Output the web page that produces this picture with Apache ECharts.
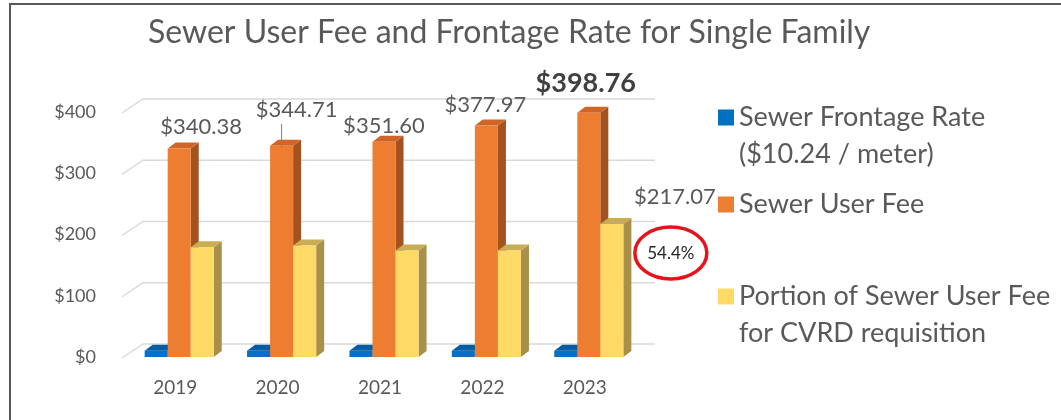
<!DOCTYPE html>
<html>
<head>
<meta charset="utf-8">
<script src="https://cdn.jsdelivr.net/npm/echarts@6/dist/echarts.min.js"></script>
<style>
html, body { margin: 0; padding: 0; background: #fff; }
#main { width: 1061px; height: 420px; }
</style>
</head>
<body>
<div id="main"></div>
<script>
var years = ['2019', '2020', '2021', '2022', '2023'];
var frontageRate = [10.24, 10.24, 10.24, 10.24, 10.24];
var userFee = [340.38, 344.71, 351.60, 377.97, 398.76];
var cvrdPortion = [179, 182, 174, 174, 217.07];
var yTicks = [0, 100, 200, 300, 400];
var seriesNames = ['Sewer Frontage Rate\n($10.24 / meter)', 'Sewer User Fee', 'Portion of Sewer User Fee\nfor CVRD requisition'];

var FONT = 'Lato, "Open Sans", sans-serif';
var GREY = '#595959';
var DEPTH_X = 8, DEPTH_Y = 6;

// label nudges for the user fee values (excel had them hand placed)
var feeLabelShift = [[22, -22], [15, -36], [0, -16], [-1, -21], [-3, -29]];

function toPairs(arr) {
	return arr.map(function (v, i) { return [i, v]; });
}

function money(v) {
	return '$' + v.toFixed(2);
}

// one legend box per series so the rows can sit where excel put them
function legendFor(name, top, twoLines) {
	return {
		orient: 'vertical',
		left: 718,
		top: top,
		padding: 0,
		itemWidth: 16,
		itemHeight: twoLines ? 53 : 16,
		selectedMode: false,
		textStyle: { fontFamily: FONT, fontSize: 27, color: GREY, lineHeight: 37 },
		data: [twoLines ? { name: name, icon: 'path://M0,0L16,0L16,16L0,16Z M0,53' } : { name: name, icon: 'rect' }]
	};
}

function bar3d(slot, colors, extra) {
	return function (params, api) {
		var idx = api.value(0);
		var val = api.value(1);
		var base = api.coord([idx, 0]);
		var peak = api.coord([idx, val]);
		var w = api.size([1, 0])[0] * 0.225;
		var x0 = base[0] + 4 + (slot - 1.5) * w;
		var x1 = x0 + w;
		var yb = base[1], yt = peak[1];
		var children = [
			{ type: 'polygon', shape: { points: [[x1, yt], [x1 + DEPTH_X, yt - DEPTH_Y], [x1 + DEPTH_X, yb - DEPTH_Y], [x1, yb]] }, style: { fill: colors[1] } },
			{ type: 'polygon', shape: { points: [[x0, yt], [x0 + DEPTH_X, yt - DEPTH_Y], [x1 + DEPTH_X, yt - DEPTH_Y], [x1, yt]] }, style: { fill: colors[2] } },
			{ type: 'rect', shape: { x: x0, y: yt, width: w, height: yb - yt }, style: { fill: colors[0] } }
		];
		extra && extra(children, idx, val, x0, x1, yt, w);
		return { type: 'group', children: children };
	};
}

var chart = echarts.init(document.getElementById('main'));

var option = {
	animation: false,
	title: {
		text: 'Sewer User Fee and Frontage Rate for Single Family',
		left: 143,
		top: 12,
		textStyle: { fontFamily: FONT, fontSize: 32, fontWeight: 'normal', color: GREY }
	},
	graphic: [{
		type: 'polyline',
		shape: { points: [[10, 420], [10, 4], [1061, 4]] },
		style: { stroke: '#595959', lineWidth: 2, fill: null }
	}],
	legend: [
		legendFor(seriesNames[0], 99, true),
		legendFor(seriesNames[1], 186, false),
		legendFor(seriesNames[2], 278, true)
	],
	grid: { left: 124, right: 425, top: 112, bottom: 63 },
	xAxis: {
		type: 'category',
		data: years,
		axisLine: { show: false },
		axisTick: { show: false },
		axisLabel: { margin: 21, fontFamily: FONT, fontSize: 19, color: GREY }
	},
	yAxis: {
		type: 'value',
		min: yTicks[0],
		max: yTicks[yTicks.length - 1],
		interval: yTicks[1] - yTicks[0],
		splitLine: { show: false },
		axisLine: { show: false },
		axisTick: { show: false },
		axisLabel: {
			margin: 28, padding: [6, 0, 0, 0],
			fontFamily: FONT, fontSize: 18, color: GREY,
			formatter: function (v) { return '$' + v; }
		}
	},
	series: [{
		name: 'grid3d',
		type: 'custom',
		z: 1,
		silent: true,
		data: yTicks.map(function (v) { return [0, v]; }),
		renderItem: function (params, api) {
			var y = api.coord([0, api.value(1)])[1];
			var cs = params.coordSys;
			return {
				type: 'polyline',
				shape: { points: [[cs.x - 2, y + 1], [cs.x + 19, y - 13], [cs.x + cs.width + 19, y - 13]] },
				style: { stroke: '#d9d9d9', lineWidth: 1.5, fill: null }
			};
		}
	}, {
		name: seriesNames[0],
		type: 'custom',
		z: 2,
		itemStyle: { color: '#0070c0' },
		data: toPairs(frontageRate),
		renderItem: bar3d(0, ['#0a6fc2', '#004f8c', '#005ea6'])
	}, {
		name: seriesNames[1],
		type: 'custom',
		z: 3,
		itemStyle: { color: '#ed7d31' },
		data: toPairs(userFee),
		renderItem: bar3d(1, ['#ed7d31', '#a4521e', '#cf6526'], function (children, idx, val, x0, x1, yt, w) {
			var s = feeLabelShift[idx];
			var cx = (x0 + x1) / 2;
			var last = idx === userFee.length - 1;
			children.push({
				type: 'text',
				style: {
					text: money(val), x: cx + s[0], y: yt + s[1],
					align: 'center', verticalAlign: 'middle',
					font: (last ? 'bold 27px ' : '22px ') + FONT,
					fill: last ? '#404040' : GREY
				}
			});
			if (s[1] < -30) {
				children.push({ type: 'line', shape: { x1: cx, y1: yt + s[1] + 14, x2: cx, y2: yt + 2 }, style: { stroke: '#7f7f7f', lineWidth: 1 } });
			}
		})
	}, {
		name: seriesNames[2],
		type: 'custom',
		z: 4,
		itemStyle: { color: '#ffd966' },
		data: toPairs(cvrdPortion),
		renderItem: bar3d(2, ['#ffd966', '#a8904a', '#c9ad55'], function (children, idx, val, x0, x1, yt, w) {
			if (idx !== cvrdPortion.length - 1) return;
			var cx = (x0 + x1) / 2;
			var share = (val / userFee[idx] * 100).toFixed(1) + '%';
			children.push({
				type: 'text',
				style: { text: money(val), x: cx + 63, y: yt - 27, align: 'center', verticalAlign: 'middle', font: '22px ' + FONT, fill: GREY }
			});
			children.push({
				type: 'ellipse',
				shape: { cx: cx + 59, cy: yt + 29, rx: 36, ry: 26 },
				style: { stroke: '#e8121a', lineWidth: 3.5, fill: '#fff' }
			});
			children.push({
				type: 'text',
				style: { text: share, x: cx + 59, y: yt + 29, align: 'center', verticalAlign: 'middle', font: '17px ' + FONT, fill: '#262626' }
			});
		})
	}]
};

chart.setOption(option);
</script>
</body>
</html>
